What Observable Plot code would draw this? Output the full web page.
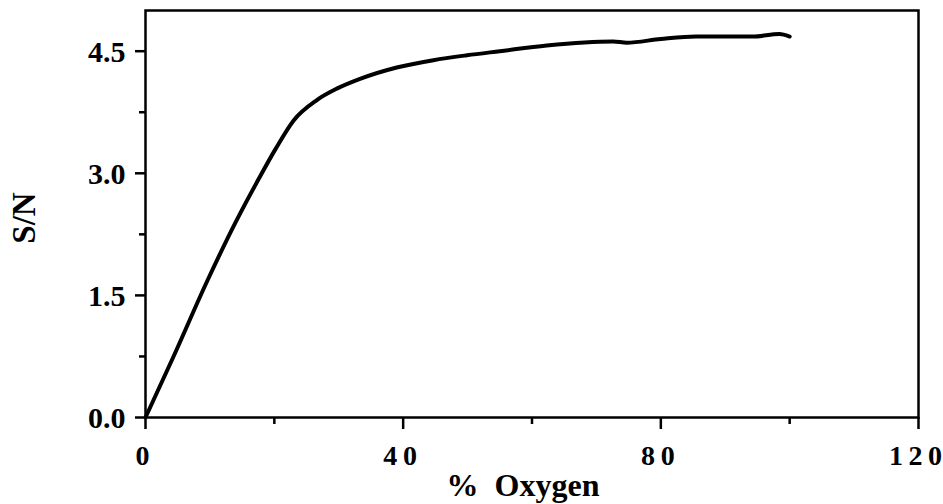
<!DOCTYPE html>
<html>
<head>
<meta charset="utf-8">
<script src="https://cdn.jsdelivr.net/npm/d3@7"></script>
<script src="https://cdn.jsdelivr.net/npm/@observablehq/plot@0.6"></script>
<style>
  html, body { margin: 0; padding: 0; background: #fff; }
</style>
</head>
<body>
<div id="chart"></div>
<script>
// Data
const oxygen = [0, 4.3, 9.6, 14, 17.5, 20.2, 23.0, 26.6, 29.7, 33.3, 39.0, 44.7, 49.9, 55, 62.3, 72.6, 74.7, 80, 85.5, 94.3, 98.4, 100];
const snr    = [0, 0.74, 1.68, 2.40, 2.92, 3.30, 3.65, 3.90, 4.04, 4.16, 4.30, 4.39, 4.45, 4.50, 4.57, 4.62, 4.605, 4.65, 4.68, 4.68, 4.71, 4.68];
const xMajorTicks = [0, 40, 80, 120];
const xMinorTicks = [20, 60, 100];
const yMajorTicks = [0, 1.5, 3.0, 4.5];
const yMinorTicks = [0.75, 2.25, 3.75];
const xTitle = "% Oxygen";
const yTitle = "S/N";

const data = oxygen.map((x, i) => ({x, y: snr[i]}));
const font = "Liberation Serif, Times New Roman, serif";
const spaced = d => String(d).split("").join("\u2009");

const chart = Plot.plot({
  width: 943,
  height: 504,
  marginLeft: 145,
  marginRight: 25,
  marginTop: 10,
  marginBottom: 87,
  style: {fontFamily: font, fontWeight: "bold", color: "#000", background: "#fff"},
  x: {domain: [0, 120]},
  y: {domain: [0, 5]},
  marks: [
    Plot.frame({stroke: "#000", strokeWidth: 2.5}),
    Plot.axisX({ticks: xMajorTicks, tickSize: 12, strokeWidth: 2.5, tickFormat: () => "", label: null}),
    Plot.axisX({ticks: xMinorTicks, tickSize: 7, strokeWidth: 2.5, tickFormat: () => "", label: null}),
    Plot.axisY({ticks: yMajorTicks, tickSize: 10, strokeWidth: 2.5, tickFormat: () => "", label: null}),
    Plot.axisY({ticks: yMinorTicks, tickSize: 6, strokeWidth: 2.5, tickFormat: () => "", label: null}),
    Plot.text(xMajorTicks, {x: d => d, frameAnchor: "bottom", dx: -3, dy: 28, lineAnchor: "top", textAnchor: "middle", fontSize: 28, fontWeight: "bold", fill: "#000", text: spaced}),
    Plot.text(yMajorTicks, {y: d => d, frameAnchor: "left", dx: -20, dy: 1, lineAnchor: "middle", textAnchor: "end", fontSize: 30, fontWeight: "bold", fill: "#000", text: d3.format(".1f")}),
    Plot.line(data, {x: "x", y: "y", stroke: "#000", strokeWidth: 4, curve: "monotone-x"}),
    Plot.text([xTitle], {frameAnchor: "bottom", dx: -9, dy: 68, textAnchor: "middle", lineAnchor: "middle", fontSize: 32, fontWeight: "bold", fill: "#000", text: d => d.replace(" ", "\u2002")}),
    Plot.text([yTitle], {frameAnchor: "left", dx: -121, dy: 4, rotate: -90, textAnchor: "middle", lineAnchor: "middle", fontSize: 33, fontWeight: "bold", fill: "#000", text: d => d})
  ]
});
document.getElementById("chart").appendChild(chart);
</script>
</body>
</html>
